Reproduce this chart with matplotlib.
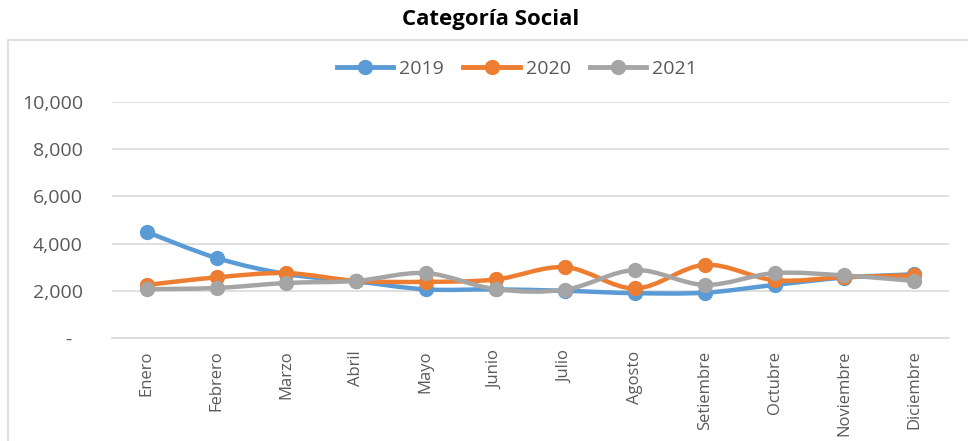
import matplotlib.pyplot as plt
from matplotlib.path import Path
from matplotlib.patches import PathPatch, Rectangle
from matplotlib.lines import Line2D

meses = ["Enero", "Febrero", "Marzo", "Abril", "Mayo", "Junio", "Julio",
         "Agosto", "Setiembre", "Octubre", "Noviembre", "Diciembre"]
v2019 = [4490, 3390, 2710, 2400, 2060, 2060, 2000, 1900, 1920, 2250, 2560, 2700]
v2020 = [2250, 2570, 2750, 2420, 2380, 2480, 3000, 2100, 3100, 2450, 2580, 2650]
v2021 = [2070, 2120, 2330, 2420, 2750, 2070, 2050, 2880, 2250, 2750, 2650, 2420]
series = [("2019", v2019, "#5B9BD5"), ("2020", v2020, "#ED7D31"), ("2021", v2021, "#A5A5A5")]

plt.rcParams['font.family'] = ['Open Sans', 'DejaVu Sans']


def smooth_path(xs, ys):
    # bezier like excel's smoothed line (catmull-rom)
    pts = list(zip(xs, ys))
    verts = [pts[0]]
    codes = [Path.MOVETO]
    n = len(pts)
    for i in range(n - 1):
        p0 = pts[i - 1] if i > 0 else pts[i]
        p1 = pts[i]
        p2 = pts[i + 1]
        p3 = pts[i + 2] if i + 2 < n else pts[i + 1]
        c1 = (p1[0] + (p2[0] - p0[0]) / 6, p1[1] + (p2[1] - p0[1]) / 6)
        c2 = (p2[0] - (p3[0] - p1[0]) / 6, p2[1] - (p3[1] - p1[1]) / 6)
        verts += [c1, c2, p2]
        codes += [Path.CURVE4] * 3
    return Path(verts, codes)


fig = plt.figure(figsize=(9.68, 4.41), dpi=100)
ax = fig.add_axes([112 / 968, 1 - 338 / 441, (949 - 112) / 968, (338 - 102) / 441])

x = list(range(len(meses)))
handles = []
for name, vals, col in series:
    ax.add_patch(PathPatch(smooth_path(x, vals), facecolor="none", edgecolor=col,
                           lw=3.2, capstyle="round", joinstyle="round", zorder=3))
    ax.plot(x, vals, "o", color=col, ms=10, zorder=4)
    handles.append(Line2D([], [], color=col, lw=3.5, marker="o", ms=10, label=name))

ax.set_xlim(-0.5, 11.5)
ax.set_ylim(0, 10000)
ax.set_yticks([0, 2000, 4000, 6000, 8000, 10000])
ax.set_yticklabels(["-  ", "2,000", "4,000", "6,000", "8,000", "10,000"])
ax.set_xticks(x)
ax.set_xticklabels(meses, rotation=90, fontsize=12, color="#595959", va="top")
ax.tick_params(axis="y", length=0, pad=21, labelsize=14, labelcolor="#595959")
ax.tick_params(axis="x", length=0, pad=9)
ax.grid(axis="y", color="#D9D9D9", lw=1.2)
ax.set_axisbelow(True)
for s in ["top", "right", "left"]:
    ax.spines[s].set_visible(False)
ax.spines["bottom"].set_color("#D9D9D9")
ax.spines["bottom"].set_linewidth(1.2)

fig.text(491 / 968, 1 - 19 / 441, "Categoría Social", ha="center", va="center",
         fontsize=16, fontweight="bold")
fig.legend(handles=handles, loc="center", bbox_to_anchor=(517 / 968, 1 - 69 / 441),
           ncol=3, frameon=False, fontsize=14, handlelength=2.9, handletextpad=0.3,
           columnspacing=1.0, labelcolor="#595959")
fig.patches.append(Rectangle((8 / 968, -0.05), 1.0, 1 - 40 / 441 + 0.05,
                             transform=fig.transFigure, fill=False,
                             edgecolor="#D9D9D9", lw=1.2))

plt.savefig("out.png", dpi=100)
